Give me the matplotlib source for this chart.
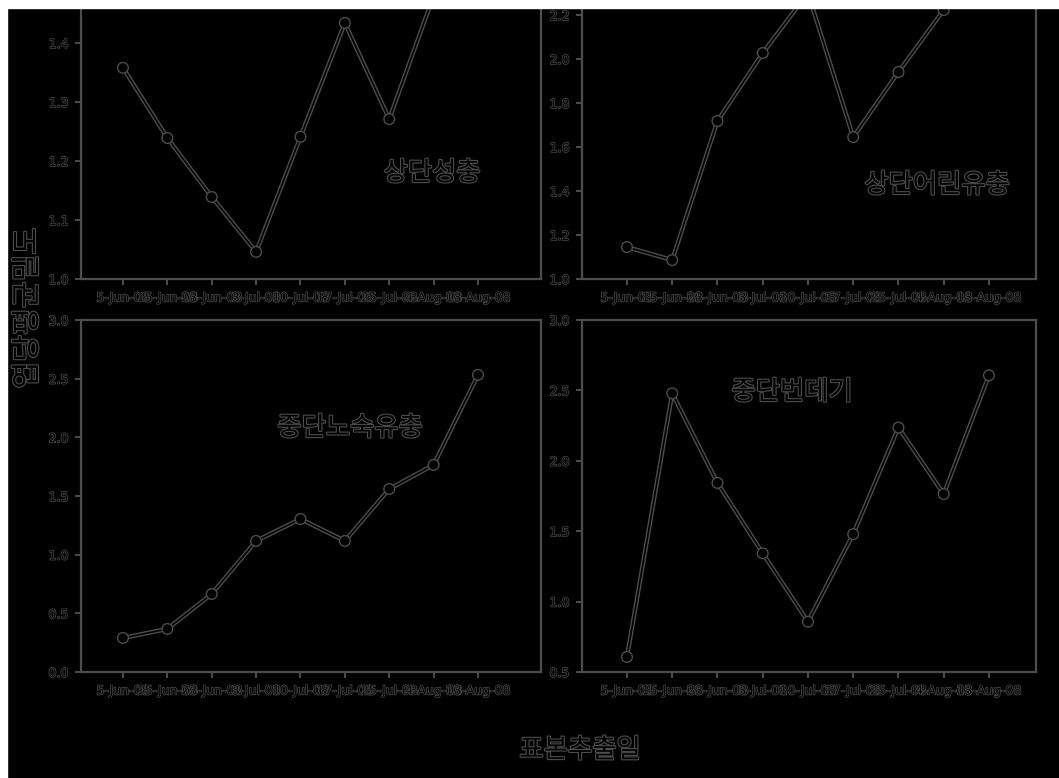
import matplotlib
matplotlib.use("Agg")
import matplotlib.pyplot as plt
import matplotlib.patheffects as pe
import numpy as np

# 데이터
dates = ["5-Jun-08", "15-Jun-08", "23-Jun-08", "3-Jul-08", "10-Jul-08",
         "17-Jul-08", "25-Jul-08", "4-Aug-08", "13-Aug-08"]
adult_upper = [1.358, 1.239, 1.139, 1.046, 1.241, 1.434, 1.271, 1.48, 1.55]
young_larva_upper = [1.145, 1.086, 1.718, 2.027, 2.30, 1.645, 1.941, 2.223, 2.40]
mature_larva_mid = [0.29, 0.367, 0.665, 1.117, 1.304, 1.117, 1.56, 1.765, 2.532]
pupa_mid = [0.607, 2.479, 1.843, 1.343, 0.857, 1.479, 2.236, 1.764, 2.607]

panel_names = ["상단성충", "상단어린유충", "중단노숙유충", "중단번데기"]

gray = "#4d4d4d"
W, H = 1059, 778

plt.rcParams['font.family'] = ['DejaVu Sans']

fig = plt.figure(figsize=(W / 100, H / 100), dpi=100, facecolor="black")

def px_rect(x0, x1, ytop, ybot):
    return [x0 / W, 1 - ybot / H, (x1 - x0) / W, (ybot - ytop) / H]

outline = [pe.withStroke(linewidth=1.6, foreground=gray)]
line_fx = [pe.Stroke(linewidth=3.2, foreground=gray), pe.Stroke(linewidth=1.2, foreground="black")]

panels = [
    # 위치(px), xlim, ylim, yticks, 데이터, 글자위치(px)
    (px_rect(81, 541, -75, 279), (0.054, 10.42), (1.0, 1.6), np.arange(1.0, 1.41, 0.1), adult_upper, (432, 173)),
    (px_rect(582, 1036, -29, 279), (0.006, 10.04), (1.0, 2.4), np.arange(1.0, 2.21, 0.2), young_larva_upper, (937, 185)),
    (px_rect(81, 541, 320, 672), (0.054, 10.42), (0.0, 3.0), np.arange(0.0, 3.01, 0.5), mature_larva_mid, (350, 428)),
    (px_rect(582, 1036, 320, 672), (0.006, 10.04), (0.5, 3.0), np.arange(0.5, 3.01, 0.5), pupa_mid, (792, 392)),
]

x = np.arange(1, len(dates) + 1)
for (rect, xlim, ylim, yticks, vals, tpos), name in zip(panels, panel_names):
    ax = fig.add_axes(rect)
    ax.set_facecolor("black")
    ax.plot(x, vals, color=gray, lw=1.2, marker="o", ms=5.5, mfc="black",
            mec=gray, mew=1.2, path_effects=line_fx)
    ax.set_xlim(*xlim)
    ax.set_ylim(*ylim)
    ax.set_xticks(x)
    ax.set_xticklabels(dates)
    ax.set_yticks(yticks)
    ax.set_yticklabels([f"{t:.1f}" for t in yticks])
    for s in ax.spines.values():
        s.set_color(gray)
        s.set_linewidth(1.6)
    ax.tick_params(colors=gray, width=1.4, length=4, labelsize=9, pad=5)
    for lab in ax.get_xticklabels() + ax.get_yticklabels():
        lab.set_color("black")
        lab.set_path_effects([pe.withStroke(linewidth=1.0, foreground=gray)])
    fig.text(tpos[0] / W, 1 - tpos[1] / H, name, ha="center", va="center",
             fontsize=19, color="black", family=["Noto Sans CJK KR"],
             path_effects=outline)

fig.text(28 / W, 1 - 308 / H, "엽당평균밀도", rotation=90, ha="center", va="center",
         fontsize=21, color="black", family=["Noto Sans CJK KR"], path_effects=outline)
fig.text(580 / W, 1 - 750 / H, "표본추출일", ha="center", va="center",
         fontsize=19, color="black", family=["Noto Sans CJK KR"], path_effects=outline)

# 위/왼쪽 흰 여백
fig.patches.append(plt.Rectangle((0, 1 - 8 / H), 1, 8 / H, transform=fig.transFigure,
                                 color="white", zorder=100))
fig.patches.append(plt.Rectangle((0, 0), 7 / W, 1, transform=fig.transFigure,
                                 color="white", zorder=100))

fig.savefig("out.png", dpi=100, facecolor="black")
